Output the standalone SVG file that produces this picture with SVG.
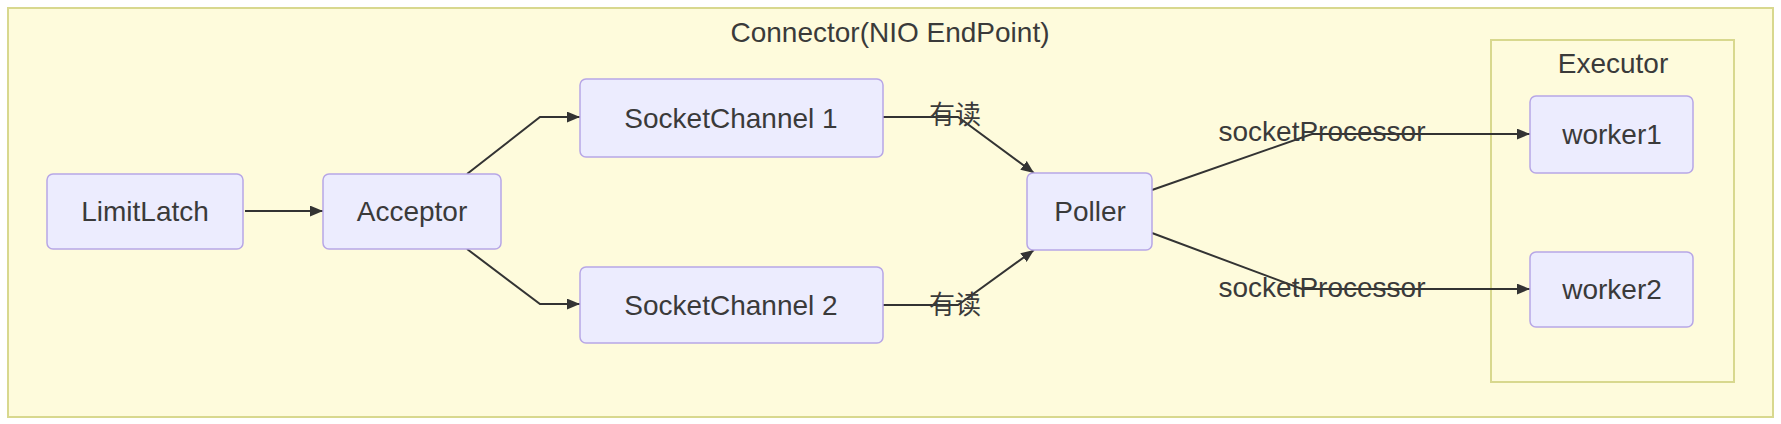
<svg xmlns="http://www.w3.org/2000/svg" width="1781" height="424" viewBox="0 0 1781 424">
<style>
  .bg { fill: #ffffff; }
  .cluster { fill: #fefbdc; stroke: #d8d88e; stroke-width: 2; }
  .node rect { fill: #ececfe; stroke: #b7a6e6; stroke-width: 1.5; }
  text { font-family: "Liberation Sans", "Noto Sans CJK SC", sans-serif; fill: #3a3a3a; dominant-baseline: central; text-anchor: middle; }
  .lbl { font-size: 28px; }
  .elbl { font-size: 26px; }
  .edge { fill: none; stroke: #333333; stroke-width: 2; }
</style>
<defs>
  <marker id="arrow" markerUnits="userSpaceOnUse" viewBox="0 0 12 10" refX="12" refY="5" markerWidth="13" markerHeight="11" orient="auto">
    <path d="M0,0 L12,5 L0,10 z" fill="#333333"/>
  </marker>
</defs>
<rect class="bg" x="0" y="0" width="1781" height="424"/>
<g id="cluster-connector">
  <rect class="cluster" x="8" y="8" width="1765" height="409"/>
  <text class="lbl" x="890" y="32">Connector(NIO EndPoint)</text>
</g>
<g id="cluster-executor">
  <rect class="cluster" x="1491" y="40" width="243" height="342"/>
  <text class="lbl" x="1613" y="63">Executor</text>
</g>
<g id="connectors">
  <path class="edge" d="M245,211 L323,211" marker-end="url(#arrow)"/>
  <path class="edge" d="M467,174 L540,117 L580,117" marker-end="url(#arrow)"/>
  <path class="edge" d="M467,249 L540,304 L580,304" marker-end="url(#arrow)"/>
  <path class="edge" d="M883,117 L958,117 L1034,173" marker-end="url(#arrow)"/>
  <path class="edge" d="M883,305 L958,305 L1034,250" marker-end="url(#arrow)"/>
  <path class="edge" d="M1152,190 L1312,134 L1530,134" marker-end="url(#arrow)"/>
  <path class="edge" d="M1152,233 L1302,289 L1530,289" marker-end="url(#arrow)"/>
  <text class="elbl" x="955" y="115">有读</text>
  <text class="elbl" x="955" y="305">有读</text>
  <text class="lbl" x="1322" y="131">socketProcessor</text>
  <text class="lbl" x="1322" y="287">socketProcessor</text>
</g>
<g id="node-limitlatch" class="node">
  <rect x="47" y="174" width="196" height="75" rx="6"/>
  <text class="lbl" x="145" y="211">LimitLatch</text>
</g>
<g id="node-acceptor" class="node">
  <rect x="323" y="174" width="178" height="75" rx="6"/>
  <text class="lbl" x="412" y="211">Acceptor</text>
</g>
<g id="node-socketchannel1" class="node">
  <rect x="580" y="79" width="303" height="78" rx="6"/>
  <text class="lbl" x="731" y="118">SocketChannel 1</text>
</g>
<g id="node-socketchannel2" class="node">
  <rect x="580" y="267" width="303" height="76" rx="6"/>
  <text class="lbl" x="731" y="305">SocketChannel 2</text>
</g>
<g id="node-poller" class="node">
  <rect x="1027" y="173" width="125" height="77" rx="6"/>
  <text class="lbl" x="1090" y="211">Poller</text>
</g>
<g id="node-worker1" class="node">
  <rect x="1530" y="96" width="163" height="77" rx="6"/>
  <text class="lbl" x="1612" y="134">worker1</text>
</g>
<g id="node-worker2" class="node">
  <rect x="1530" y="252" width="163" height="75" rx="6"/>
  <text class="lbl" x="1612" y="289">worker2</text>
</g>
</svg>
